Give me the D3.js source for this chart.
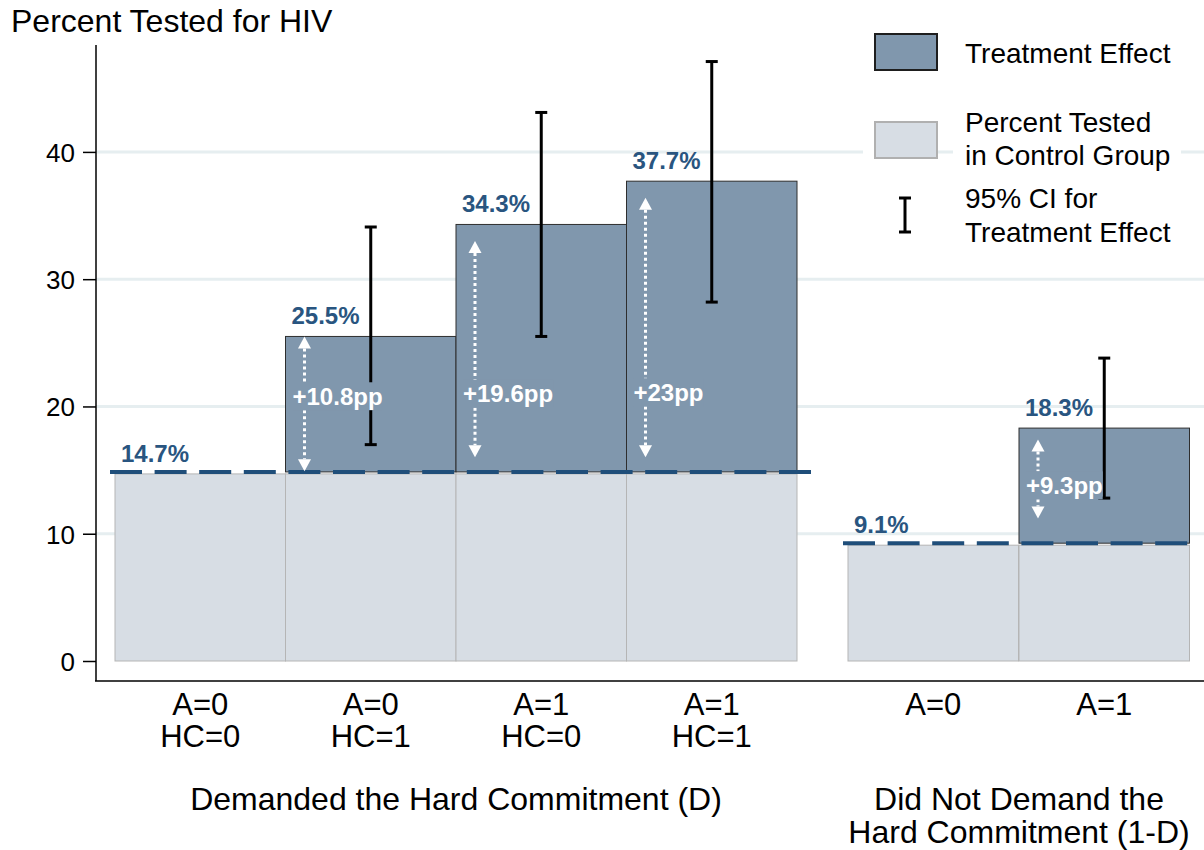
<!DOCTYPE html>
<html lang="en">
  <head>
    <meta charset="utf-8" />
    <script src="https://d3js.org/d3.v7.min.js"></script>
    <style>
      body { margin: 0; background: #fff; }
      svg text { font-family: "Liberation Sans", Arial, sans-serif; }
    </style>
  </head>
  <body>
    <div id="chart"></div>
    <script>
      // ---- data ----
      var catLine1 = ["A=0", "A=0", "A=1", "A=1", "A=0", "A=1"];
      var catLine2 = ["HC=0", "HC=1", "HC=0", "HC=1", "", ""];
      var catGroup = [0, 0, 0, 0, 1, 1];
      var controlPct = [14.7, 14.7, 14.7, 14.7, 9.1, 9.1];
      var treatedPct = [null, 25.5, 34.3, 37.7, null, 18.3];
      var ciLow = [null, 17.0, 25.5, 28.2, null, 12.8];
      var ciHigh = [null, 34.1, 43.1, 47.1, null, 23.8];
      var effectLabels = [null, "+10.8pp", "+19.6pp", "+23pp", null, "+9.3pp"];
      var arrowTop = [null, 25.5, 33.0, 36.4, null, 17.4];
      var arrowBottom = [null, 14.9, 16.0, 16.0, null, 11.2];
      var effectLabelAt = [null, 20.8, 21.0, 21.1, null, 13.8];
      var groupNames = [
        ["Demanded the Hard Commitment (D)"],
        ["Did Not Demand the", "Hard Commitment (1-D)"],
      ];
      var yTicks = [0, 10, 20, 30, 40];

      var W = 1204, H = 850;
      var darkFill = "#8097ad", lightFill = "#d7dde4", labelBlue = "#295580";

      var svg = d3.select("#chart").append("svg")
        .attr("width", W).attr("height", H);

      // scales
      var y = d3.scaleLinear().domain([0, 48.4]).range([661, 45]);
      var xs = [
        d3.scaleBand().domain([0, 1, 2, 3]).range([115, 797]),
        d3.scaleBand().domain([4, 5]).range([848, 1190]),
      ];
      var idx = d3.range(catLine1.length);
      function xl(i) { return xs[catGroup[i]](i); }
      var bw = xs[0].bandwidth();

      // gridlines
      svg.append("g").selectAll("line").data(yTicks.filter(function (t) { return t > 0; }))
        .enter().append("line")
        .attr("x1", 96).attr("x2", W)
        .attr("y1", function (d) { return y(d); })
        .attr("y2", function (d) { return y(d); })
        .attr("stroke", "#e6eef0").attr("stroke-width", 3);

      // control bars
      svg.append("g").selectAll("rect").data(idx).enter().append("rect")
        .attr("x", xl).attr("width", bw)
        .attr("y", function (i) { return y(controlPct[i]); })
        .attr("height", function (i) { return y(0) - y(controlPct[i]); })
        .attr("fill", lightFill).attr("stroke", "#b5b5b5").attr("stroke-width", 1);

      // treatment effect bars
      var treated = idx.filter(function (i) { return treatedPct[i] != null; });
      svg.append("g").selectAll("rect").data(treated).enter().append("rect")
        .attr("x", xl).attr("width", bw)
        .attr("y", function (i) { return y(treatedPct[i]); })
        .attr("height", function (i) { return y(controlPct[i]) - y(treatedPct[i]) - 2; })
        .attr("fill", darkFill).attr("stroke", "#2e2e2e").attr("stroke-width", 1);

      // dashed control lines per group (ends on a whole dash)
      var dash = 32, gap = 12.6;
      [0, 1].forEach(function (g) {
        var r = xs[g].range();
        var v = controlPct[xs[g].domain()[0]];
        var x0 = r[0] - 5;
        var n = Math.ceil((r[1] - x0) / (dash + gap));
        var x1 = x0 + (n - 1) * (dash + gap) + dash;
        svg.append("line")
          .attr("x1", x0).attr("x2", x1)
          .attr("y1", y(v) - 2).attr("y2", y(v) - 2)
          .attr("stroke", "#1f4e7a").attr("stroke-width", 4)
          .attr("stroke-dasharray", dash + "," + gap);
      });

      // error bars
      var eb = svg.append("g").attr("stroke", "#000").attr("stroke-width", 3);
      treated.forEach(function (i) {
        var cx = xl(i) + bw / 2;
        eb.append("line").attr("x1", cx).attr("x2", cx)
          .attr("y1", y(ciLow[i])).attr("y2", y(ciHigh[i]));
        [ciLow[i], ciHigh[i]].forEach(function (v) {
          eb.append("line").attr("x1", cx - 6).attr("x2", cx + 6)
            .attr("y1", y(v)).attr("y2", y(v));
        });
      });

      // arrows + effect labels
      function head(g, x, tipY, dir) {
        g.append("path")
          .attr("d", "M" + x + "," + tipY + " L" + (x - 6.5) + "," + (tipY + dir * 12) +
            " L" + (x + 6.5) + "," + (tipY + dir * 12) + "Z")
          .attr("fill", "#fff");
      }
      treated.forEach(function (i) {
        var g = svg.append("g");
        var ax = xl(i) + 19;
        var t = y(arrowTop[i]), b = y(arrowBottom[i]), m = y(effectLabelAt[i]);
        g.append("line").attr("x1", ax).attr("x2", ax)
          .attr("y1", t + 12).attr("y2", m - 14)
          .attr("stroke", "#fff").attr("stroke-width", 3).attr("stroke-dasharray", "3,3");
        g.append("line").attr("x1", ax).attr("x2", ax)
          .attr("y1", m + 14).attr("y2", b - 12)
          .attr("stroke", "#fff").attr("stroke-width", 3).attr("stroke-dasharray", "3,3");
        head(g, ax, t, 1);
        head(g, ax, b, -1);
        var bg = g.append("rect").attr("fill", darkFill);
        var tx = g.append("text")
          .attr("x", xl(i) + 7).attr("y", m + 8.5)
          .attr("fill", "#fff").attr("font-weight", "bold").attr("font-size", 24)
          .text(effectLabels[i]);
        var bb = tx.node().getBBox();
        bg.attr("x", bb.x).attr("width", bb.width).attr("y", m - 14).attr("height", 28);
      });

      // bar value labels
      svg.append("g").selectAll("text").data(idx.filter(function (i) {
        return treatedPct[i] != null || i === xs[catGroup[i]].domain()[0];
      })).enter().append("text")
        .attr("x", function (i) { return xl(i) + 6; })
        .attr("y", function (i) {
          var v = treatedPct[i] != null ? treatedPct[i] : controlPct[i];
          return y(v) - 12;
        })
        .attr("fill", labelBlue).attr("font-weight", "bold").attr("font-size", 24)
        .text(function (i) {
          var v = treatedPct[i] != null ? treatedPct[i] : controlPct[i];
          return v.toFixed(1) + "%";
        });

      // y axis
      var yAxis = svg.append("g").attr("transform", "translate(96,0)")
        .call(d3.axisLeft(y).tickValues(yTicks).tickSize(13).tickPadding(8).tickSizeOuter(0));
      yAxis.select(".domain").remove();
      yAxis.selectAll(".tick line").attr("stroke", "#000").attr("stroke-width", 1.5);
      yAxis.selectAll(".tick text")
        .attr("font-size", 26).attr("fill", "#000")
        .attr("font-family", "'Liberation Sans', Arial, sans-serif")
        .attr("dy", "0.36em");
      svg.append("line").attr("x1", 96).attr("x2", 96).attr("y1", 45).attr("y2", 681)
        .attr("stroke", "#000").attr("stroke-width", 1.5);
      svg.append("line").attr("x1", 95).attr("x2", W).attr("y1", 681).attr("y2", 681)
        .attr("stroke", "#000").attr("stroke-width", 1.5);

      // x category labels
      var xl1 = svg.append("g").attr("font-size", 31).attr("text-anchor", "middle");
      idx.forEach(function (i) {
        var cx = xl(i) + bw / 2;
        xl1.append("text").attr("x", cx).attr("y", 715).text(catLine1[i]);
        if (catLine2[i]) xl1.append("text").attr("x", cx).attr("y", 747).text(catLine2[i]);
      });

      // group labels
      groupNames.forEach(function (lines, g) {
        var r = xs[g].range();
        lines.forEach(function (s, k) {
          svg.append("text").attr("x", (r[0] + r[1]) / 2).attr("y", 810 + k * 33)
            .attr("text-anchor", "middle").attr("font-size", 32).text(s);
        });
      });

      // title
      svg.append("text").attr("x", 11).attr("y", 32).attr("font-size", 32).text("Percent Tested for HIV");

      // legend
      var lg = svg.append("g");
      lg.append("rect").attr("x", 863).attr("y", 112).attr("width", 12).attr("height", 56).attr("fill", "#fff");
      lg.append("rect").attr("x", 953).attr("y", 105).attr("width", 228).attr("height", 70).attr("fill", "#fff");
      lg.append("rect").attr("x", 875).attr("y", 34).attr("width", 62).attr("height", 36)
        .attr("fill", darkFill).attr("stroke", "#1e1e1e").attr("stroke-width", 2);
      lg.append("rect").attr("x", 875).attr("y", 122).attr("width", 62).attr("height", 36)
        .attr("fill", lightFill).attr("stroke", "#b0b0b0").attr("stroke-width", 2);
      lg.append("line").attr("x1", 905).attr("x2", 905).attr("y1", 198).attr("y2", 232)
        .attr("stroke", "#000").attr("stroke-width", 3);
      [198, 232].forEach(function (yy) {
        lg.append("line").attr("x1", 899).attr("x2", 911).attr("y1", yy).attr("y2", yy)
          .attr("stroke", "#000").attr("stroke-width", 3);
      });
      var legendText = [["Treatment Effect", 63], ["Percent Tested", 132], ["in Control Group", 165],
        ["95% CI for", 208], ["Treatment Effect", 242]];
      legendText.forEach(function (d) {
        lg.append("text").attr("x", 965).attr("y", d[1]).attr("font-size", 28).text(d[0]);
      });
    </script>
  </body>
</html>
